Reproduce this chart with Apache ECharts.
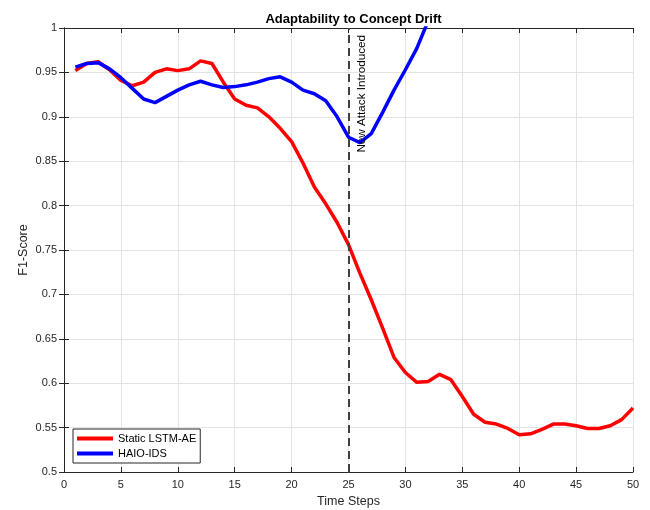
<!DOCTYPE html>
<html>
<head>
<meta charset="utf-8">
<script src="https://cdn.jsdelivr.net/npm/echarts@6/dist/echarts.min.js"></script>
<style>html,body{margin:0;padding:0;background:#fff;}#c{width:650px;height:510px;}</style>
</head>
<body>
<div id="c"></div>
<script>
var timeSteps = [];
for (var i = 1; i <= 50; i++) timeSteps.push(i);
var staticLSTM = [0.952,0.960,0.962,0.953,0.941,0.935,0.939,0.950,0.954,0.952,0.954,0.963,0.960,0.939,0.920,0.913,0.910,0.900,0.887,0.872,0.848,0.821,0.802,0.781,0.756,0.724,0.694,0.662,0.629,0.612,0.601,0.602,0.610,0.604,0.585,0.565,0.556,0.554,0.549,0.542,0.543,0.548,0.554,0.554,0.552,0.549,0.549,0.552,0.559,0.572];
var haioIDS = [0.956,0.960,0.961,0.954,0.944,0.932,0.920,0.916,0.923,0.930,0.936,0.940,0.936,0.933,0.934,0.936,0.939,0.943,0.945,0.939,0.930,0.926,0.918,0.900,0.877,0.871,0.881,0.905,0.930,0.953,0.977,1.008];
var driftStep = 25;
var driftLabel = 'New Attack Introduced';
var seriesNames = ['Static LSTM-AE', 'HAIO-IDS'];

function pairs(vals) {
  return vals.map(function (v, i) { return [timeSteps[i], v]; });
}
var FONT = 'Liberation Sans, Arial, sans-serif';
var AX = '#262626';
var GRID = '#e3e3e3';

var chart = echarts.init(document.getElementById('c'), null, {renderer: 'canvas'});
chart.setOption({
  animation: false,
  backgroundColor: '#fff',
  title: {
    text: 'Adaptability to Concept Drift',
    left: 348.5, textAlign: 'center', top: 8,
    textStyle: {fontFamily: FONT, fontSize: 13, fontWeight: 'bold', color: '#000'}
  },
  grid: {left: 64, right: 17, top: 28, bottom: 38, containLabel: false, outerBoundsMode: 'none'},
  legend: {
    orient: 'vertical', left: 73, top: 429,
    data: seriesNames,
    icon: 'rect', itemWidth: 36, itemHeight: 4, itemGap: 2,
    padding: [3, 4, 3, 4],
    borderColor: AX, borderWidth: 1, backgroundColor: '#fff',
    textStyle: {fontFamily: FONT, fontSize: 11, color: '#000', lineHeight: 13}
  },
  xAxis: [{
    type: 'value', min: 0, max: 50, interval: 5,
    name: 'Time Steps', nameLocation: 'middle', nameGap: 23,
    nameTextStyle: {fontFamily: FONT, fontSize: 12.5, color: AX},
    axisLine: {show: true, lineStyle: {color: AX, width: 1}},
    axisTick: {show: true, inside: true, length: 5, lineStyle: {color: AX}},
    axisLabel: {fontFamily: FONT, fontSize: 11, color: AX, margin: 7},
    splitLine: {show: true, lineStyle: {color: GRID, width: 1}}
  }, {
    type: 'value', min: 0, max: 50, interval: 5, position: 'top',
    axisLine: {show: true, lineStyle: {color: AX, width: 1}},
    axisTick: {show: true, inside: true, length: 5, lineStyle: {color: AX}},
    axisLabel: {show: false}, splitLine: {show: false}
  }],
  yAxis: [{
    type: 'value', min: 0.5, max: 1, interval: 0.05,
    name: 'F1-Score', nameLocation: 'middle', nameGap: 34, nameRotate: 90, nameMoveOverlap: false,
    nameTextStyle: {fontFamily: FONT, fontSize: 12.5, color: AX},
    axisLine: {show: true, lineStyle: {color: AX, width: 1}},
    axisTick: {show: true, inside: true, length: 5, lineStyle: {color: AX}},
    axisLabel: {fontFamily: FONT, fontSize: 11, color: AX, margin: 7,
      formatter: function (v) { return String(parseFloat(v.toFixed(2))); }},
    splitLine: {show: true, lineStyle: {color: GRID, width: 1}}
  }, {
    type: 'value', min: 0.5, max: 1, interval: 0.05, position: 'right',
    axisLine: {show: true, lineStyle: {color: AX, width: 1}},
    axisTick: {show: true, inside: true, length: 5, lineStyle: {color: AX}},
    axisLabel: {show: false}, splitLine: {show: false}
  }],
  series: [{
    name: seriesNames[0], type: 'line', data: pairs(staticLSTM),
    showSymbol: false, symbol: 'none', clip: true,
    lineStyle: {color: '#ff0000', width: 3.5}, itemStyle: {color: '#ff0000'},
    z: 3,
    markLine: {
      silent: true, symbol: 'none', animation: false,
      lineStyle: {type: [8, 5], color: '#404040', width: 2},
      label: {show: true, formatter: driftLabel, position: 'insideEndBottom', distance: [7, 7],
        fontFamily: FONT, fontSize: 11.7, color: '#000'},
      data: [{xAxis: driftStep}]
    }
  }, {
    name: seriesNames[1], type: 'line', data: pairs(haioIDS),
    showSymbol: false, symbol: 'none', clip: true,
    lineStyle: {color: '#0000ff', width: 3.5}, itemStyle: {color: '#0000ff'},
    z: 4
  }]
});
</script>
</body>
</html>
